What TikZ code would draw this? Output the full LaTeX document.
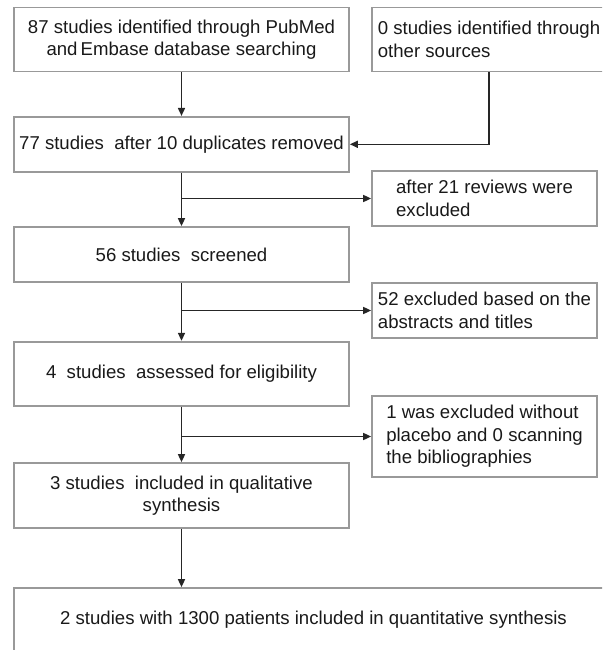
\documentclass[tikz,border=0pt]{standalone}
\usepackage{fontspec}
\setmainfont{Liberation Sans}
\usetikzlibrary{arrows.meta}
\tikzset{>=Latex}
\tikzstyle{arw}=[-{Triangle[length=8pt,width=7pt]}, draw=black!85, line width=1.6pt]
\tikzstyle{box}=[draw=black!40, line width=1.7pt, inner xsep=3pt, inner ysep=2pt, text=black!90, font=\fontsize{18.6}{22.5}\selectfont]

\begin{document}
\begin{tikzpicture}[x=1pt,y=-1pt]
    \useasboundingbox (0,0) rectangle (602,650);
    \clip (0,0) rectangle (602,650);
    % main column
    \node[box, align=center, minimum width=335pt, minimum height=64pt] (find) at (181.5,39.5) {87 studies identified through PubMed\\and\,Embase database searching};
    \node[box, minimum width=335pt, minimum height=55pt] (dup) at (181.5,144.3) {77 studies~ after 10 duplicates removed};
    \node[box, minimum width=335pt, minimum height=55pt] (screen) at (181.5,254.5) {56 studies~ screened};
    \node[box, minimum width=335pt, minimum height=64pt] (elig) at (181.5,373.7) {4~ studies~ assessed for eligibility};
    \node[box, align=center, minimum width=335pt, minimum height=65pt] (qual) at (181.5,495.5) {3 studies~ included in qualitative\\synthesis};
    \node[box, minimum width=599pt, minimum height=64pt] (quant) at (313.5,620) {2 studies with 1300 patients included in quantitative synthesis};
    % side column
    \node[box, align=left, minimum width=234pt, minimum height=64pt] (other) at (489,39.5) {0 studies identified through\\other sources};
    \node[box, align=left, minimum width=225pt, minimum height=55pt] (rev) at (484.5,198.5) {after 21 reviews were\\excluded};
    \node[box, align=left, minimum width=225pt, minimum height=55pt] (abs) at (484.5,310.5) {52 excluded based on the\\abstracts and titles};
    \node[box, align=left, minimum width=225pt, minimum height=81pt] (plac) at (484.5,436.5) {1 was excluded without\\placebo and 0 scanning\\the bibliographies};

    \draw[arw] (find) -- (dup);
    \draw[arw] (other) |- (dup);
    \draw[arw] (dup) -- (screen);
    \draw[arw] (dup |- rev) -- (rev);
    \draw[arw] (screen) -- (elig);
    \draw[arw] (screen |- abs) -- (abs);
    \draw[arw] (elig) -- (qual);
    \draw[arw] (elig |- plac) -- (plac);
    \draw[arw] (qual) -- (qual |- quant.north);
\end{tikzpicture}
\end{document}
